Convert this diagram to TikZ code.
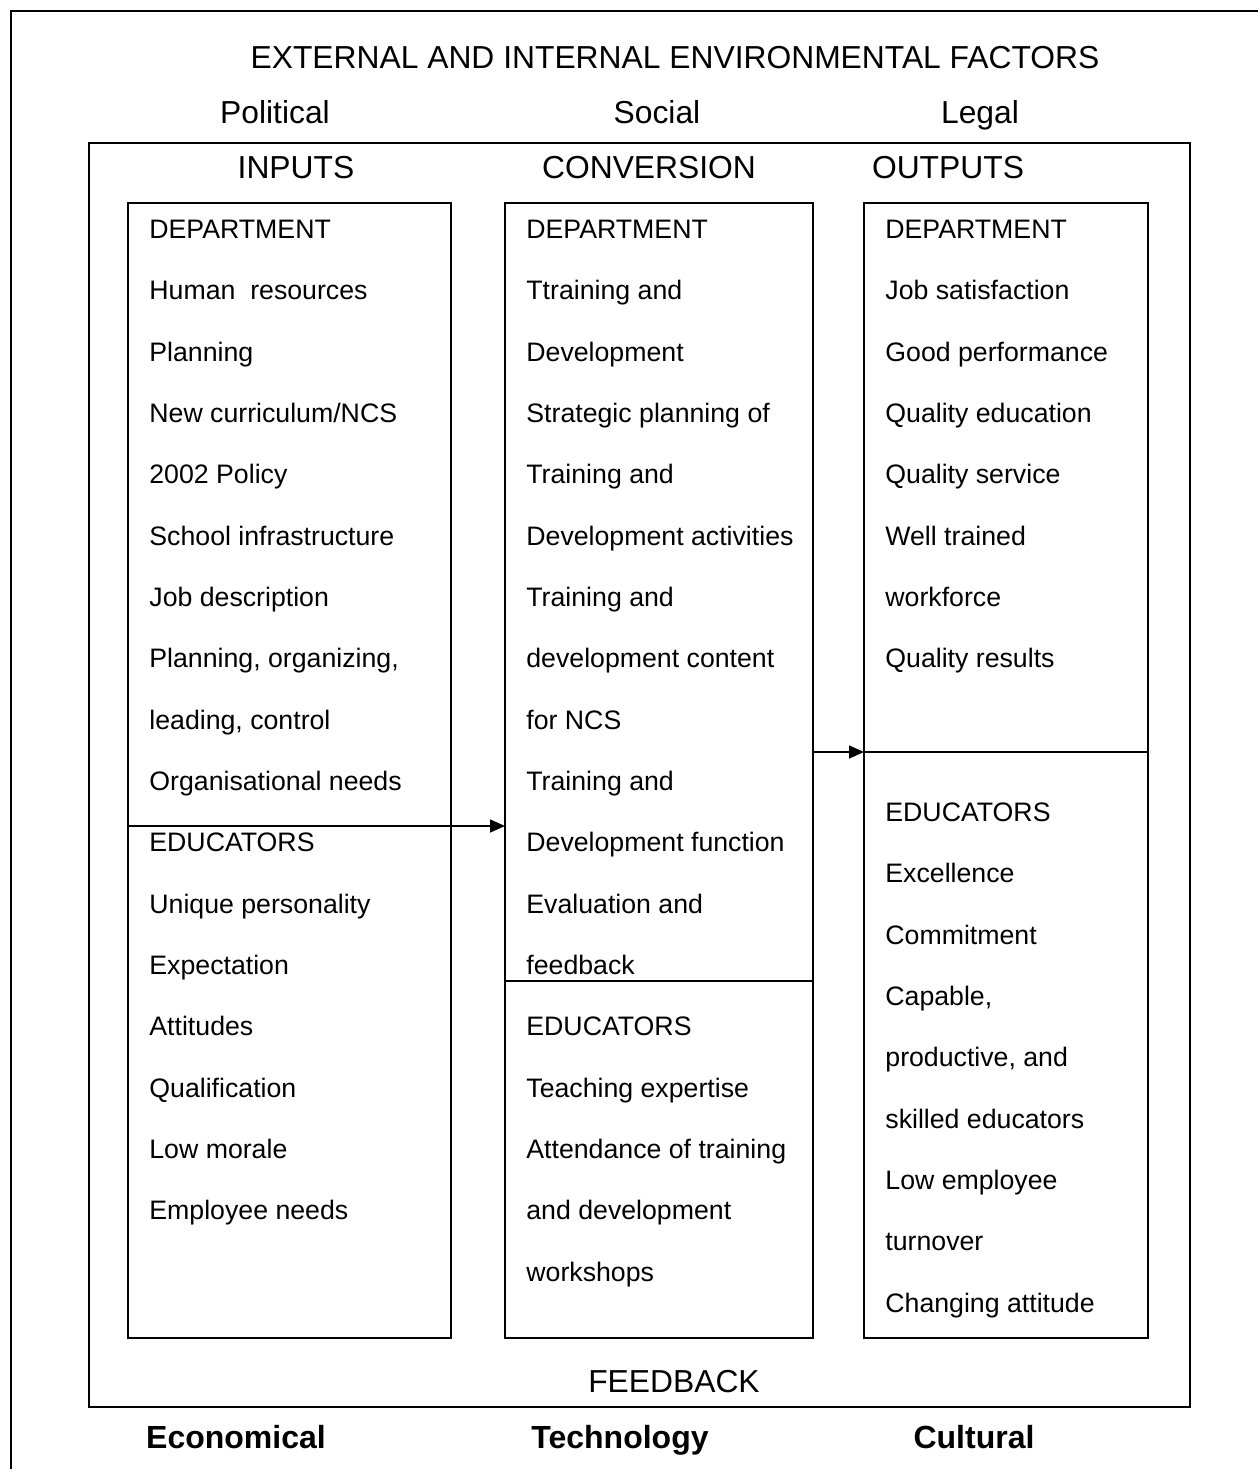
\documentclass[tikz,border=0pt]{standalone}
\usepackage{fontspec}
\setmainfont{Liberation Sans}
\usetikzlibrary{arrows.meta}
\begin{document}
\begin{tikzpicture}[x=0.5pt,y=-0.5pt,
  frame/.style={line width=0.8pt},
  colbox/.style={draw, line width=0.8pt, anchor=north west, inner sep=0pt, outer sep=0pt},
  item/.style={anchor=base west, inner sep=0pt, font=\fontsize{13.35}{15}\selectfont},
  head/.style={anchor=base, inner sep=0pt, font=\fontsize{15.9}{18}\selectfont},
  foot/.style={anchor=base, inner sep=0pt, font=\fontsize{16}{18}\selectfont\bfseries},
  divline/.style={line width=0.8pt},
  flow/.style={line width=0.8pt, -{Triangle[length=7.5pt,width=6.5pt]}}]
\useasboundingbox (0,0) rectangle (1258,1469);
% outer frame (only top and left edges visible)
\coordinate (frameBL) at (11,1469);
\coordinate (frameTL) at (11,11);
\coordinate (frameTR) at (1258,11);
\draw[frame] (frameBL) -- (frameTL) -- (frameTR);
% system box and columns
\node[colbox, minimum width=550.5pt, minimum height=632pt] (sys) at (89,143) {};
\node[colbox, minimum width=161.5pt, minimum height=567.5pt] (inbox) at (128,203) {};
\node[colbox, minimum width=154pt, minimum height=567.5pt] (convbox) at (505,203) {};
\node[colbox, minimum width=142pt, minimum height=567.5pt] (outbox) at (864,203) {};
% headings
\node[head] (env) at (675,68) {EXTERNAL AND INTERNAL ENVIRONMENTAL FACTORS};
\node[head] (pol) at (275,123) {Political};
\node[head] (soc) at (657,123) {Social};
\node[head] (leg) at (980,123) {Legal};
\node[head] (hin) at (296,178) {INPUTS};
\node[head] (hconv) at (649,178) {CONVERSION};
\node[head] (hout) at (948,178) {OUTPUTS};
\node[head] (fb) at (674,1392) {FEEDBACK};
\node[foot] (eco) at (236,1448) {Economical};
\node[foot] (tech) at (620,1448) {Technology};
\node[foot] (cul) at (974,1448) {Cultural};
% inputs items
\foreach \t [count=\i from 0] in {DEPARTMENT, Human~~resources, Planning, New curriculum/NCS, 2002 Policy, School infrastructure, Job description, {Planning, organizing,}, {leading, control}, Organisational needs, EDUCATORS, Unique personality, Expectation, Attitudes, Qualification, Low morale, Employee needs}
  \node[item] (in\i) at (149,238.5+61.33*\i) {\t};
% conversion items
\foreach \t [count=\i from 0] in {DEPARTMENT, Ttraining and, Development, Strategic planning of, Training and, Development activities, Training and, development content, for NCS, Training and, Development function, Evaluation and, feedback, EDUCATORS, Teaching expertise, Attendance of training, and development, workshops}
  \node[item] (cv\i) at (526,238.5+61.33*\i) {\t};
% outputs items (department)
\foreach \t [count=\i from 0] in {DEPARTMENT, Job satisfaction, Good performance, Quality education, Quality service, Well trained, workforce, Quality results}
  \node[item] (od\i) at (885,238.5+61.33*\i) {\t};
% outputs items (educators)
\foreach \t [count=\i from 0] in {EDUCATORS, Excellence, Commitment, {Capable,}, {productive, and}, skilled educators, Low employee, turnover, Changing attitude}
  \node[item] (oe\i) at (885,821.5+61.33*\i) {\t};
% dividers and flows
\coordinate (inDiv) at (128,826);
\draw[flow] (inDiv) -- (inDiv -| convbox.west);
\coordinate (cvDiv) at (505,981);
\draw[divline] (cvDiv) -- (cvDiv -| convbox.east);
\coordinate (outDiv) at (864,752);
\draw[divline] (outDiv) -- (outDiv -| outbox.east);
\draw[flow] (outDiv -| convbox.east) -- (outDiv);
\end{tikzpicture}
\end{document}
